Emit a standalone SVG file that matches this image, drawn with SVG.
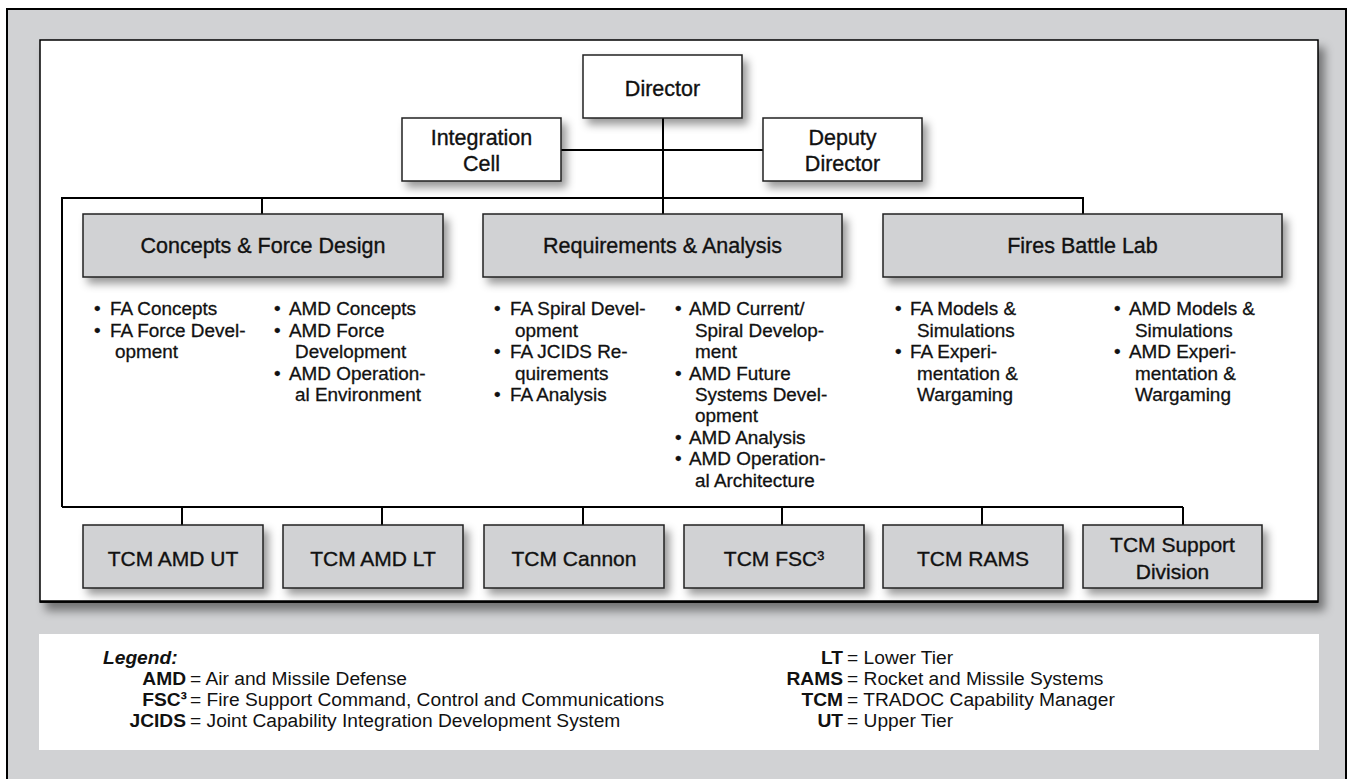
<svg xmlns="http://www.w3.org/2000/svg" width="1349" height="779" viewBox="0 0 1349 779">
<style>
text{font-family:"Liberation Sans",Arial,Helvetica,sans-serif;fill:#111}
.hd{font-size:21.5px;text-anchor:middle;stroke:#111;stroke-width:0.35}
.tc{font-size:21px;text-anchor:middle;stroke:#111;stroke-width:0.35}
.bl{font-size:18.9px;stroke:#111;stroke-width:0.3}
.lg{font-size:19.2px}
.ab{font-weight:bold;text-anchor:end}
.wbox{fill:#fff;stroke:#222;stroke-width:1.5}
.gbox{fill:#d1d2d4;stroke:#222;stroke-width:1.5}
.con{stroke:#000;stroke-width:2;fill:none}
</style>
<defs>
<filter id="sh" x="-10%" y="-20%" width="130%" height="160%">
<feDropShadow dx="5" dy="6" stdDeviation="4" flood-color="#000" flood-opacity="0.4"/>
</filter>
<filter id="shp" x="-5%" y="-5%" width="110%" height="115%">
<feDropShadow dx="6" dy="8" stdDeviation="5" flood-color="#000" flood-opacity="0.45"/>
</filter>
</defs>
<rect x="0" y="0" width="1349" height="779" fill="#fff"/>
<rect x="7" y="9" width="1339" height="790" fill="#d1d2d4" stroke="#000" stroke-width="2"/>
<g id="panel">
<rect x="40" y="40" width="1278" height="562" fill="#fff" stroke="#000" stroke-width="1.5" filter="url(#shp)"/>
<path d="M40 601.5H1318" stroke="#000" stroke-width="2.5"/>
</g>
<g id="connectors">
<path class="con" d="M561 150H763M663 118V214M62 507V198H1083V214M262 198V214"/>
<path class="con" d="M62 507H1183M182 507V525M382 507V525M583 507V525M782 507V525M982 507V525M1183 507V525"/>
</g>
<g id="director"><rect class="wbox" x="583" y="55" width="159" height="63" filter="url(#sh)"/><text class="hd" x="662.5" y="96">Director</text></g>
<g id="integration-cell"><rect class="wbox" x="402" y="118" width="159" height="63" filter="url(#sh)"/><text class="hd" x="481.5" y="145">Integration</text><text class="hd" x="481.5" y="171">Cell</text></g>
<g id="deputy-director"><rect class="wbox" x="763" y="118" width="159" height="63" filter="url(#sh)"/><text class="hd" x="842.5" y="145">Deputy</text><text class="hd" x="842.5" y="171">Director</text></g>

<g id="concepts">
<rect class="gbox" x="83" y="214" width="360" height="63" filter="url(#sh)"/>
<text class="hd" x="263" y="253">Concepts &amp; Force Design</text>
<text class="bl"><tspan x="94" y="315">•</tspan><tspan x="110" y="315">FA Concepts</tspan><tspan x="94" y="336.5">•</tspan><tspan x="110" y="336.5">FA Force Devel-</tspan><tspan x="115" y="358">opment</tspan></text>
<text class="bl"><tspan x="274" y="315">•</tspan><tspan x="289" y="315">AMD Concepts</tspan><tspan x="274" y="336.5">•</tspan><tspan x="289" y="336.5">AMD Force</tspan><tspan x="295" y="358">Development</tspan><tspan x="274" y="379.5">•</tspan><tspan x="289" y="379.5">AMD Operation-</tspan><tspan x="295" y="401">al Environment</tspan></text>
</g>

<g id="requirements">
<rect class="gbox" x="483" y="214" width="359" height="63" filter="url(#sh)"/>
<text class="hd" x="662.5" y="253">Requirements &amp; Analysis</text>
<text class="bl"><tspan x="494" y="315">•</tspan><tspan x="510" y="315">FA Spiral Devel-</tspan><tspan x="515" y="336.5">opment</tspan><tspan x="494" y="358">•</tspan><tspan x="510" y="358">FA JCIDS Re-</tspan><tspan x="515" y="379.5">quirements</tspan><tspan x="494" y="401">•</tspan><tspan x="510" y="401">FA Analysis</tspan></text>
<text class="bl"><tspan x="675" y="315">•</tspan><tspan x="689" y="315">AMD Current/</tspan><tspan x="695" y="336.5">Spiral Develop-</tspan><tspan x="695" y="358">ment</tspan><tspan x="675" y="379.5">•</tspan><tspan x="689" y="379.5">AMD Future</tspan><tspan x="695" y="401">Systems Devel-</tspan><tspan x="695" y="422">opment</tspan><tspan x="675" y="443.5">•</tspan><tspan x="689" y="443.5">AMD Analysis</tspan><tspan x="675" y="465">•</tspan><tspan x="689" y="465">AMD Operation-</tspan><tspan x="695" y="486.5">al Architecture</tspan></text>
</g>

<g id="fires-battle-lab">
<rect class="gbox" x="883" y="214" width="399" height="63" filter="url(#sh)"/>
<text class="hd" x="1082.5" y="253">Fires Battle Lab</text>
<text class="bl"><tspan x="895" y="315">•</tspan><tspan x="910" y="315">FA Models &amp;</tspan><tspan x="917" y="336.5">Simulations</tspan><tspan x="895" y="358">•</tspan><tspan x="910" y="358">FA Experi-</tspan><tspan x="917" y="379.5">mentation &amp;</tspan><tspan x="917" y="401">Wargaming</tspan></text>
<text class="bl"><tspan x="1114" y="315">•</tspan><tspan x="1129" y="315">AMD Models &amp;</tspan><tspan x="1135" y="336.5">Simulations</tspan><tspan x="1114" y="358">•</tspan><tspan x="1129" y="358">AMD Experi-</tspan><tspan x="1135" y="379.5">mentation &amp;</tspan><tspan x="1135" y="401">Wargaming</tspan></text>
</g>

<g id="tcm-amd-ut"><rect class="gbox" x="83" y="525" width="180" height="63" filter="url(#sh)"/><text class="tc" x="173" y="566">TCM AMD UT</text></g>
<g id="tcm-amd-lt"><rect class="gbox" x="283" y="525" width="180" height="63" filter="url(#sh)"/><text class="tc" x="373" y="566">TCM AMD LT</text></g>
<g id="tcm-cannon"><rect class="gbox" x="484" y="525" width="180" height="63" filter="url(#sh)"/><text class="tc" x="574" y="566">TCM Cannon</text></g>
<g id="tcm-fsc3"><rect class="gbox" x="684" y="525" width="180" height="63" filter="url(#sh)"/><text class="tc" x="774" y="566">TCM FSC³</text></g>
<g id="tcm-rams"><rect class="gbox" x="883" y="525" width="180" height="63" filter="url(#sh)"/><text class="tc" x="973" y="566">TCM RAMS</text></g>
<g id="tcm-support"><rect class="gbox" x="1083" y="525" width="179" height="63" filter="url(#sh)"/><text class="tc" x="1172.5" y="552">TCM Support</text><text class="tc" x="1172.5" y="579">Division</text></g>

<g id="legend">
<rect x="39" y="634" width="1280" height="116" fill="#fff"/>
<text class="lg" x="103" y="664" font-weight="bold" font-style="italic">Legend:</text>
<text class="lg ab" x="186" y="685">AMD</text><text class="lg" x="190" y="685">= Air and Missile Defense</text>
<text class="lg ab" x="187" y="706">FSC³</text><text class="lg" x="190" y="706">= Fire Support Command, Control and Communications</text>
<text class="lg ab" x="186" y="727">JCIDS</text><text class="lg" x="190" y="727">= Joint Capability Integration Development System</text>
<text class="lg ab" x="843" y="664">LT</text><text class="lg" x="847" y="664">= Lower Tier</text>
<text class="lg ab" x="843" y="685">RAMS</text><text class="lg" x="847" y="685">= Rocket and Missile Systems</text>
<text class="lg ab" x="843" y="706">TCM</text><text class="lg" x="847" y="706">= TRADOC Capability Manager</text>
<text class="lg ab" x="843" y="727">UT</text><text class="lg" x="847" y="727">= Upper Tier</text>
</g>
</svg>
